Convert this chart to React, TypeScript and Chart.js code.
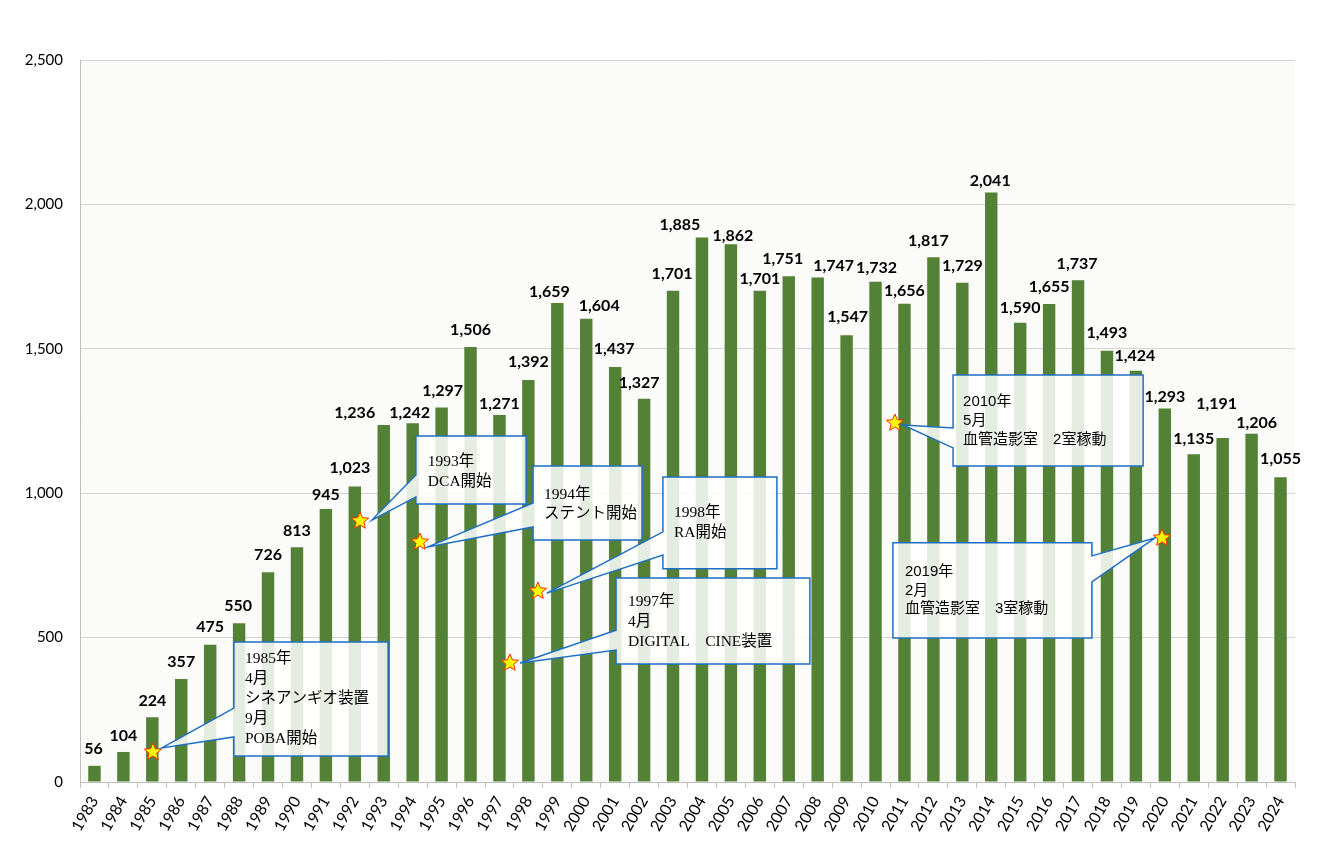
import React, { useEffect, useRef } from "react";
import { Chart, registerables } from "chart.js";

Chart.register(...registerables);

const years = [
  "1983","1984","1985","1986","1987","1988","1989","1990","1991","1992",
  "1993","1994","1995","1996","1997","1998","1999","2000","2001","2002",
  "2003","2004","2005","2006","2007","2008","2009","2010","2011","2012",
  "2013","2014","2015","2016","2017","2018","2019","2020","2021","2022",
  "2023","2024",
];

const counts = [
  56, 104, 224, 357, 475, 550, 726, 813, 945, 1023,
  1236, 1242, 1297, 1506, 1271, 1392, 1659, 1604, 1437, 1327,
  1701, 1885, 1862, 1701, 1751, 1747, 1547, 1732, 1656, 1817,
  1729, 2041, 1590, 1655, 1737, 1493, 1424, 1293, 1135, 1191,
  1206, 1055,
];

const yTicks = [0, 500, 1000, 1500, 2000, 2500];

// label nudges (pixels) relative to bar top centre, as placed in the original
const labelDx = [
  -1, 0, 0, 0, 0, -1, 0, 0, 0, -5,
  -29, -3, 1, 0, 0, 0, -8, 13, -1, -5,
  -1, -22, 2, 0, -6, 16, 1, 1, 0, -5,
  0, -1, 0, 0, -1, 0, -1, 0, 0, -6,
  5, 0,
];
const labelDy = [
  -17, -16, -16, -17, -18, -17, -17, -16, -14, -19,
  -12, -10, -17, -17, -11, -18, -11, -13, -18, -16,
  -17, -13, -8, -12, -17, -12, -18, -14, -13, -16,
  -17, -12, -15, -17, -17, -18, -15, -12, -15, -34,
  -11, -18,
];

const serifFont = '15.5px "Liberation Serif", "Noto Sans CJK JP", serif';
const sansFont = '15px "Liberation Sans", "Noto Sans CJK JP", sans-serif';

// star position (category index, value), callout box in data coordinates
const callouts = [
  {
    lines: ["1985年", "4月", "シネアンギオ装置", "9月", "POBA開始"],
    star: [2.02, 104], tip: [2.33, 118],
    box: [4.82, 10.15, 485, 90], side: "left", wedge: [256, 156],
    font: serifFont, tx: 11, ty: 17, lh: 20,
  },
  {
    lines: ["1993年", "DCA開始"],
    star: [9.18, 904], tip: [9.59, 907],
    box: [11.11, 14.92, 1198, 963], side: "left", wedge: [1063, 987],
    font: serifFont, tx: 12, ty: 26, lh: 20,
  },
  {
    lines: ["1994年", "ステント開始"],
    star: [11.25, 831], tip: [11.53, 814],
    box: [15.16, 18.93, 1094, 838], side: "left", wedge: [966, 883],
    font: serifFont, tx: 11, ty: 29, lh: 19,
  },
  {
    lines: ["1998年", "RA開始"],
    star: [15.33, 661], tip: [15.64, 654],
    box: [19.65, 23.59, 1056, 738], side: "left", wedge: [866, 786],
    font: serifFont, tx: 11, ty: 36, lh: 20,
  },
  {
    lines: ["1997年", "4月", "DIGITAL　CINE装置"],
    star: [14.36, 412], tip: [14.71, 412],
    box: [18.03, 24.73, 706, 409], side: "left", wedge: [526, 457],
    font: serifFont, tx: 12, ty: 24, lh: 20,
  },
  {
    lines: ["2010年", "5月", "血管造影室　2室稼動"],
    star: [27.67, 1243], tip: [27.95, 1236],
    box: [29.68, 36.25, 1409, 1094], side: "left", wedge: [1226, 1157],
    font: sansFont, tx: 10, ty: 27, lh: 19,
  },
  {
    lines: ["2019年", "2月", "血管造影室　3室稼動"],
    star: [36.9, 845], tip: [36.66, 845],
    box: [27.6, 34.48, 828, 499], side: "right", wedge: [783, 693],
    font: sansFont, tx: 12, ty: 29, lh: 18.5,
  },
];

function drawStar(ctx: CanvasRenderingContext2D, cx: number, cy: number, r: number) {
  const inner = r * 0.45;
  ctx.beginPath();
  for (let i = 0; i < 10; i++) {
    const rad = i % 2 === 0 ? r : inner;
    const a = -Math.PI / 2 + (i * Math.PI) / 5;
    const px = cx + rad * Math.cos(a);
    const py = cy + rad * Math.sin(a);
    if (i === 0) ctx.moveTo(px, py);
    else ctx.lineTo(px, py);
  }
  ctx.closePath();
  ctx.fillStyle = "#ffff00";
  ctx.fill();
  ctx.strokeStyle = "#ff2a00";
  ctx.lineWidth = 1;
  ctx.stroke();
}

const overlayPlugin = {
  id: "overlay",
  beforeDraw(chart: any) {
    const { ctx, chartArea } = chart;
    ctx.save();
    ctx.fillStyle = "#fbfbf9";
    ctx.fillRect(chartArea.left, chartArea.top, chartArea.right - chartArea.left, chartArea.bottom - chartArea.top);
    ctx.restore();
  },
  afterDatasetsDraw(chart: any) {
    const { ctx } = chart;
    const xs = chart.scales.x;
    const ys = chart.scales.y;
    const X = (v: number) => xs.getPixelForValue(v);
    const Y = (v: number) => ys.getPixelForValue(v);
    ctx.save();
    callouts.forEach((c) => {
      const L = X(c.box[0]);
      const R = X(c.box[1]);
      const T = Y(c.box[2]);
      const B = Y(c.box[3]);
      const w1 = Y(c.wedge[0]);
      const w2 = Y(c.wedge[1]);
      const tx = X(c.tip[0]);
      const ty = Y(c.tip[1]);
      ctx.beginPath();
      if (c.side === "left") {
        ctx.moveTo(L, T);
        ctx.lineTo(R, T);
        ctx.lineTo(R, B);
        ctx.lineTo(L, B);
        ctx.lineTo(L, w2);
        ctx.lineTo(tx, ty);
        ctx.lineTo(L, w1);
      } else {
        ctx.moveTo(L, T);
        ctx.lineTo(R, T);
        ctx.lineTo(R, w1);
        ctx.lineTo(tx, ty);
        ctx.lineTo(R, w2);
        ctx.lineTo(R, B);
        ctx.lineTo(L, B);
      }
      ctx.closePath();
      ctx.fillStyle = "rgba(255,255,255,0.85)";
      ctx.fill();
      ctx.strokeStyle = "#1f6fc5";
      ctx.lineWidth = 1.5;
      ctx.stroke();
      ctx.fillStyle = "#000";
      ctx.font = c.font;
      ctx.textAlign = "left";
      ctx.textBaseline = "middle";
      c.lines.forEach((line, i) => {
        ctx.fillText(line, L + c.tx, T + c.ty + i * c.lh);
      });
    });
    callouts.forEach((c) => {
      drawStar(ctx, X(c.star[0]), Y(c.star[1]), 9);
    });
    const meta = chart.getDatasetMeta(0);
    ctx.fillStyle = "#000";
    ctx.font = 'bold 16px Lato, "Noto Sans", sans-serif';
    ctx.textAlign = "center";
    ctx.textBaseline = "middle";
    meta.data.forEach((bar: any, i: number) => {
      ctx.fillText(counts[i].toLocaleString("en-US"), bar.x + labelDx[i], bar.y + labelDy[i]);
    });
    ctx.restore();
  },
};

export default function App() {
  const canvasRef = useRef<HTMLCanvasElement | null>(null);

  useEffect(() => {
    document.body.style.margin = "0";
    const canvas = canvasRef.current;
    if (!canvas) return;
    const chart = new Chart(canvas, {
      type: "bar",
      data: {
        labels: years,
        datasets: [
          {
            data: counts,
            backgroundColor: "#538135",
            borderWidth: 0,
            barPercentage: 0.43,
            categoryPercentage: 1,
          },
        ],
      },
      options: {
        animation: false,
        responsive: false,
        maintainAspectRatio: false,
        locale: "en-US",
        layout: { padding: { top: 60, right: 25, left: 0, bottom: 0 } },
        plugins: {
          legend: { display: false },
          tooltip: { enabled: false },
          title: { display: false },
        },
        scales: {
          x: {
            grid: {
              display: true,
              drawOnChartArea: false,
              drawTicks: true,
              tickLength: 6,
              color: "#bfbfbf",
              offset: true,
            },
            border: { display: true, color: "#bfbfbf", width: 1 },
            ticks: {
              autoSkip: false,
              maxRotation: 60,
              minRotation: 60,
              padding: 5,
              color: "#000",
              font: { family: 'Lato, "Noto Sans", sans-serif', size: 16 },
            },
            afterFit: (scale: any) => {
              scale.height = 78;
            },
          },
          y: {
            min: 0,
            max: 2500,
            afterBuildTicks: (scale: any) => {
              scale.ticks = yTicks.map((v) => ({ value: v }));
            },
            grid: { color: "#d4d4d4", drawTicks: false },
            border: { display: true, color: "#bfbfbf", width: 1 },
            ticks: {
              padding: 17,
              color: "#000",
              font: { family: 'Lato, "Noto Sans", sans-serif', size: 15 },
              callback: (v: any) => Number(v).toLocaleString("en-US"),
            },
            afterFit: (scale: any) => {
              scale.width = 80;
            },
          },
        },
      },
      plugins: [overlayPlugin],
    });
    return () => chart.destroy();
  }, []);

  return (
    <div style={{ width: 1320, height: 860, position: "relative", background: "#fff" }}>
      <canvas ref={canvasRef} width={1320} height={860} style={{ display: "block" }} />
    </div>
  );
}
